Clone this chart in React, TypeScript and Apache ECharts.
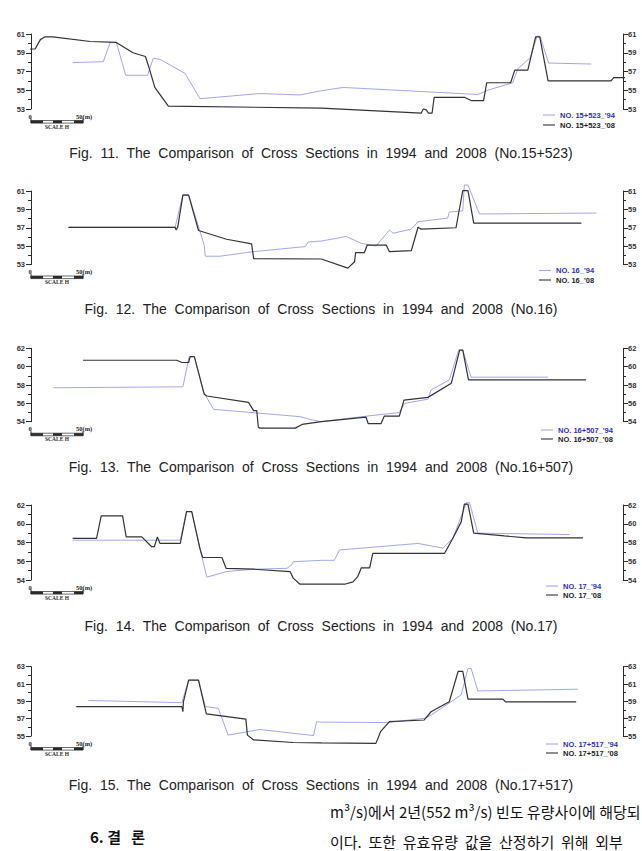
import React, { useEffect, useRef } from 'react';
import * as echarts from 'echarts';

// Cross-section survey profiles: [station (m), elevation (EL.m)]
const sec15523_94 = [
  [40, 57.95], [69.5, 58.05], [76, 60.07], [82, 60.1], [91, 56.6], [112, 56.6], [117.5, 58.4], [124, 58.3],
  [148, 56.8], [162.5, 54.1], [220, 54.65], [258.5, 54.5], [279, 54.95], [300, 55.3], [429.5, 54.55],
  [439, 55.0], [463, 55.8], [468, 57.3], [480, 58.5], [486.5, 60.8], [489.5, 60.7], [497.5, 57.9], [538.5, 57.8],
];
const sec15523_08 = [
  [-21, 59.4], [4, 59.4], [9, 60.4], [13.5, 60.7], [21, 60.7], [57, 60.2], [82, 60.1], [98, 59.0], [110, 58.6],
  [114, 57.2], [119, 55.3], [132, 53.3], [279, 53.1], [375, 52.55], [377, 53.0], [380, 52.9], [382, 52.55],
  [385.5, 52.55], [387.5, 54.25], [416.5, 54.25], [423, 53.9], [435, 53.9], [438, 55.8], [461, 55.8],
  [465, 57.15], [477.5, 57.15], [485, 60.7], [489, 60.7], [497, 56.0], [557.5, 56.0], [560, 56.35], [587.5, 56.35],
];

const sec16_94 = [
  [36, 57.05], [138.5, 57.05], [146, 60.6], [151.5, 60.6], [166.5, 55.1], [167.5, 53.9], [181.5, 53.9],
  [214, 54.4], [263.5, 54.95], [266.5, 55.45], [279, 55.55], [303, 56.05], [317.5, 55.3], [331.5, 55.0],
  [344.5, 56.75], [348, 56.4], [365.5, 56.85], [372, 57.65], [400.5, 58.05], [402, 58.7], [415, 58.85],
  [416.5, 61.65], [420, 61.65], [431, 58.5], [487, 58.55], [543.5, 58.6],
];
const sec16_08 = [
  [36, 57.05], [138.5, 57.05], [139.5, 56.75], [141, 57.05], [146, 60.55], [151.5, 60.55], [161, 56.7],
  [188, 55.75], [212, 55.25], [214, 53.65], [279, 53.6], [304.5, 52.6], [311, 53.3], [312, 54.3],
  [320.5, 54.3], [323, 55.1], [341.5, 55.1], [344.5, 54.4], [365.5, 54.5], [372, 57.05], [375, 56.85],
  [408.5, 57.0], [415, 61.05], [420, 61.05], [425.5, 57.5], [529, 57.5],
];

const sec16507_94 = [
  [21.5, 57.7], [146, 57.8], [152, 61.1], [157, 61.1], [165.5, 57.3], [175.5, 55.35], [258.5, 54.55],
  [270, 54.2], [279, 54.0], [322, 54.6], [354, 55.0], [359, 56.0], [381.5, 56.45], [384.5, 57.45],
  [402, 58.55], [411, 61.8], [415, 61.8], [423, 58.85], [497, 58.85],
];
const sec16507_08 = [
  [50, 60.7], [140, 60.7], [145, 60.45], [151.5, 60.45], [153, 61.1], [157, 61.1], [166.5, 57.0], [169, 56.8],
  [209, 56.1], [214, 55.2], [217, 55.2], [218.5, 53.4], [220, 53.3], [254, 53.3], [260.5, 53.7], [279, 54.0],
  [322, 54.5], [324, 53.8], [336.5, 53.8], [339.5, 54.6], [354, 54.6], [358.5, 56.35], [381.5, 56.65],
  [404, 58.2], [412, 61.8], [415, 61.8], [420.5, 58.55], [533.5, 58.55],
];

const sec17_94 = [
  [40, 58.25], [143.5, 58.25], [149.5, 61.3], [154.5, 61.3], [162.5, 57.3], [169, 54.3], [188, 54.9],
  [214, 55.15], [246, 55.25], [250.5, 55.6], [252, 55.95], [279, 56.1], [291.5, 56.1], [296.5, 57.2],
  [372, 57.9], [396, 57.4], [405.5, 58.45], [418.5, 62.25], [421.5, 62.25], [429.5, 59.0], [517.5, 58.85],
];
const sec17_08 = [
  [40, 58.45], [63, 58.45], [67.5, 60.85], [88, 60.85], [91.5, 58.6], [106.5, 58.6], [116, 57.55],
  [118.5, 57.55], [121.5, 58.6], [124, 57.9], [143.5, 57.9], [149.5, 61.3], [154.5, 61.3], [162.5, 57.3],
  [165, 56.4], [183.5, 56.4], [187.5, 55.25], [214, 55.15], [249, 54.9], [252, 54.2], [258.5, 53.55],
  [301.5, 53.55], [309.5, 53.8], [314, 54.35], [317.5, 55.3], [325.5, 55.3], [328.5, 56.85], [397.5, 56.85],
  [405.5, 58.45], [413.5, 60.2], [416.5, 62.1], [420, 62.1], [425.5, 59.0], [455, 58.7], [476, 58.5], [530.5, 58.5],
];

const sec17517_94 = [
  [55, 59.1], [145, 58.85], [151.5, 61.45], [161, 61.45], [167.5, 58.4], [180, 58.2], [189.5, 55.1],
  [220, 55.75], [271.5, 55.05], [274.5, 56.65], [279, 56.6], [343, 56.55], [378, 57.05], [384.5, 57.4],
  [413.5, 59.75], [420, 62.8], [423, 62.8], [429.5, 60.2], [525.5, 60.4],
];
const sec17517_08 = [
  [43.5, 58.4], [145, 58.4], [146, 57.8], [146.5, 58.95], [151.5, 61.45], [161, 61.45], [168.5, 57.55],
  [206.5, 56.95], [208, 55.1], [214, 54.55], [252, 54.25], [279, 54.2], [331.5, 54.15], [336, 55.5],
  [344.5, 56.65], [378, 56.85], [384.5, 57.8], [402, 58.95], [410.5, 62.45], [415, 62.45], [420, 59.25],
  [453.5, 59.25], [456, 58.95], [524, 58.95],
];

const sectionNos = ['15+523', '16', '16+507', '17', '17+517'];
const figNos = [11, 12, 13, 14, 15];
const data94 = [sec15523_94, sec16_94, sec16507_94, sec17_94, sec17517_94];
const data08 = [sec15523_08, sec16_08, sec16507_08, sec17_08, sec17517_08];
const elevMin = [53, 53, 54, 54, 55];
const elevMax = [61, 61, 62, 62, 63];
const elevStep = 2;
const stationMax = 569;

// page layout of the five panels
const gridTop = [34, 191, 348.3, 505, 666.7];
const gridBottom = [109, 264.5, 421.7, 580, 736];
const legendLeft = [543, 539, 541, 546, 546];
const legendTop = [110.5, 266, 425.5, 581.5, 739.5];
const legendGap = [1, 0.5, 0, 0, 0];
const captionY = [153, 309, 467, 626, 785];
const AXIS_L = 31;
const AXIS_R = 623;

const INK = '#2a2a2a';
const BLUE_LINE = '#a2a6ec';
const BLUE_TEXT = '#2f2fc4';

// widened word gaps, as in the justified typesetting
const spaced = (s: string, gap = '\u00a0 ') => s.split(' ').join(gap);

function scaleBar(yb: number) {
  const x0 = AXIS_L;
  const len = 52;
  const dark = [[0, 12], [22, 31], [43, 52]];
  const els: any[] = [
    {
      type: 'text', x: x0 - 1, y: yb + 7,
      style: { text: '0', font: 'bold 6.5px "Liberation Serif"', fill: INK, align: 'center', verticalAlign: 'middle', textAlign: 'center', textVerticalAlign: 'middle' },
    },
    {
      type: 'text', x: x0 + 45, y: yb + 7,
      style: { text: '50(m)', font: 'bold 6.5px "Liberation Serif"', fill: INK, align: 'left', verticalAlign: 'middle', textAlign: 'left', textVerticalAlign: 'middle' },
    },
    {
      type: 'rect', shape: { x: x0, y: yb + 11.5, width: len, height: 2.6 },
      style: { fill: '#fff', stroke: INK, lineWidth: 0.7 },
    },
  ];
  dark.forEach(([a, b]) => {
    els.push({ type: 'rect', shape: { x: x0 + a, y: yb + 11.5, width: b - a, height: 2.6 }, style: { fill: INK } });
  });
  els.push(
    { type: 'line', shape: { x1: x0, y1: yb + 9.5, x2: x0, y2: yb + 14 }, style: { stroke: INK, lineWidth: 1 } },
    { type: 'line', shape: { x1: x0 + len, y1: yb + 9.5, x2: x0 + len, y2: yb + 14 }, style: { stroke: INK, lineWidth: 1 } },
    {
      type: 'text', x: x0 + 26, y: yb + 17.5,
      style: { text: 'SCALE H', font: 'bold 5.5px "Liberation Serif"', fill: INK, align: 'center', verticalAlign: 'middle', textAlign: 'center', textVerticalAlign: 'middle' },
    },
  );
  return els;
}

function buildOption() {
  const grid: any[] = [];
  const xAxis: any[] = [];
  const yAxis: any[] = [];
  const series: any[] = [];
  const legend: any[] = [];
  const elements: any[] = [];

  const axisCommon = (i: number, position: 'left' | 'right') => ({
    gridIndex: i,
    type: 'value',
    position,
    min: elevMin[i],
    max: elevMax[i],
    interval: elevStep,
    axisLine: { show: true, lineStyle: { color: INK, width: 1 } },
    axisTick: { show: true, length: 5, lineStyle: { color: INK, width: 1 } },
    minorTick: { show: true, splitNumber: 2, length: 3, lineStyle: { color: INK, width: 1 } },
    splitLine: { show: false },
    axisLabel: {
      fontSize: 7.5, fontWeight: 'bold', color: '#333', fontFamily: 'Liberation Sans',
      margin: position === 'left' ? 6 : 5,
    },
  });

  sectionNos.forEach((no, i) => {
    grid.push({ left: AXIS_L, right: 642 - AXIS_R, top: gridTop[i], height: gridBottom[i] - gridTop[i] });
    xAxis.push({ gridIndex: i, type: 'value', min: 0, max: stationMax, show: false });
    yAxis.push(axisCommon(i, 'left'));
    yAxis.push(axisCommon(i, 'right'));

    const n94 = `NO. ${no}_'94`;
    const n08 = `NO. ${no}_'08`;
    series.push({
      name: n94, type: 'line', xAxisIndex: i, yAxisIndex: 2 * i, data: data94[i],
      symbol: 'none', clip: false, silent: true, z: 2,
      lineStyle: { color: BLUE_LINE, width: 1 }, itemStyle: { color: BLUE_LINE },
    });
    series.push({
      name: n08, type: 'line', xAxisIndex: i, yAxisIndex: 2 * i, data: data08[i],
      symbol: 'none', clip: false, silent: true, z: 3,
      lineStyle: { color: '#333', width: 1.2 }, itemStyle: { color: '#333' },
    });
    legend.push({
      left: legendLeft[i], top: legendTop[i], orient: 'vertical', padding: 0,
      icon: 'rect', itemWidth: 12, itemHeight: 1.1, itemGap: legendGap[i], selectedMode: false,
      textStyle: { fontSize: 7.5, fontFamily: 'Liberation Sans', fontWeight: 'bold', lineHeight: 9 },
      data: [
        { name: n94, textStyle: { color: BLUE_TEXT } },
        { name: n08, textStyle: { color: '#222' } },
      ],
    });

    elements.push(...scaleBar(gridBottom[i]));
    elements.push({
      type: 'text', x: 321, y: captionY[i],
      style: {
        text: spaced(`Fig. ${figNos[i]}. The Comparison of Cross Sections in 1994 and 2008 (No.${no})`),
        font: '14px "Liberation Sans"', fill: '#222',
        align: 'center', verticalAlign: 'middle', textAlign: 'center', textVerticalAlign: 'middle',
      },
    });
  });

  // start of the conclusions section below the figures
  elements.push(
    {
      type: 'text', x: 90, y: 836,
      style: { text: '6. 결   론', font: 'bold 15px "Noto Sans CJK KR"', fill: '#111', align: 'left', verticalAlign: 'middle', textAlign: 'left', textVerticalAlign: 'middle' },
    },
    {
      type: 'text', x: 330, y: 811,
      style: { text: 'm³/s)에서 2년(552 m³/s) 빈도 유량사이에 해당되', font: '15px "Noto Sans CJK KR"', fill: '#111', align: 'left', verticalAlign: 'middle', textAlign: 'left', textVerticalAlign: 'middle' },
    },
    {
      type: 'text', x: 330, y: 841,
      style: { text: spaced('이다. 또한 유효유량 값을 산정하기 위해 외부'), font: '15px "Noto Sans CJK KR"', fill: '#111', align: 'left', verticalAlign: 'middle', textAlign: 'left', textVerticalAlign: 'middle' },
    },
  );

  return {
    animation: false,
    backgroundColor: '#fff',
    grid, xAxis, yAxis, series, legend,
    graphic: { elements },
  };
}

export default function App() {
  const ref = useRef<HTMLDivElement>(null);
  useEffect(() => {
    if (!ref.current) return;
    const chart = echarts.init(ref.current, null, { renderer: 'svg' });
    chart.setOption(buildOption() as any);
    return () => chart.dispose();
  }, []);
  return (
    <div
      ref={ref}
      style={{ position: 'fixed', left: 0, top: 0, width: 642, height: 851, background: '#fff' }}
    />
  );
}
